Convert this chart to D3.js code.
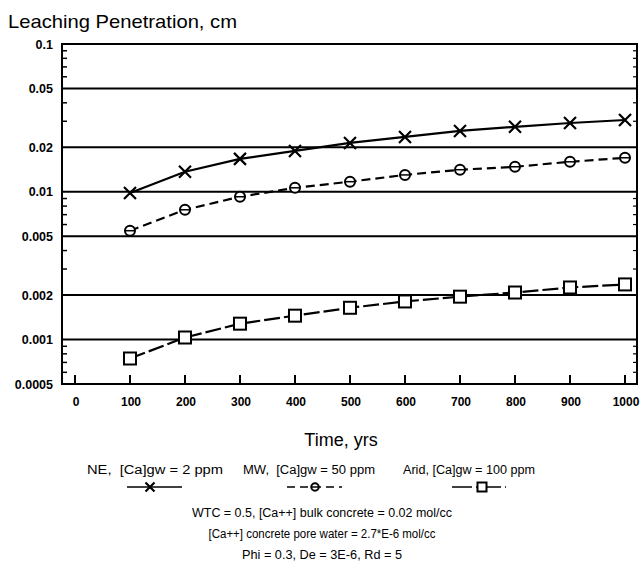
<!DOCTYPE html>
<html><head><meta charset="utf-8">
<script src="https://cdn.jsdelivr.net/npm/d3@7"></script>
<style>body{margin:0;background:#fff}svg{display:block}text{font-family:"Liberation Sans",Arial,sans-serif;fill:#000}</style>
</head><body>
<svg id="c" width="641" height="569"></svg>
<script>
const years = [100,200,300,400,500,600,700,800,900,1000];
const neValues = [0.0098,0.01365,0.0167,0.0189,0.0214,0.0235,0.0258,0.0275,0.0292,0.0306];
const mwValues = [0.00545,0.00755,0.00925,0.01064,0.0117,0.0130,0.0141,0.01476,0.01595,0.01698];
const aridValues = [0.000744,0.001032,0.00128,0.00145,0.00164,0.00181,0.00195,0.00208,0.00225,0.00236];
const xTicks = [0,100,200,300,400,500,600,700,800,900,1000];
const yTicks = [0.1,0.05,0.02,0.01,0.005,0.002,0.001,0.0005];
const yTickLabels = ["0.1","0.05","0.02","0.01","0.005","0.002","0.001","0.0005"];
const legendLabels = ["NE,  [Ca]gw = 2 ppm","MW,  [Ca]gw = 50 ppm","Arid, [Ca]gw = 100 ppm"];
const notes = ["WTC = 0.5, [Ca++] bulk concrete = 0.02 mol/cc","[Ca++] concrete pore water = 2.7*E-6 mol/cc","Phi = 0.3, De = 3E-6, Rd = 5"];

const svg = d3.select("#c");
const L=62,R=637,T=44,B=384;
const x = d3.scaleLinear().domain([-23.6,1021.8]).range([L,R]);
const y = d3.scaleLog().domain([0.0005,0.1]).range([B,T]);

svg.append("text").attr("x",8).attr("y",28).attr("font-size",19).attr("textLength",229).attr("lengthAdjust","spacingAndGlyphs").text("Leaching Penetration, cm");

svg.append("g").selectAll("line").data(yTicks).join("line")
 .attr("x1",L).attr("x2",R).attr("y1",d=>y(d)).attr("y2",d=>y(d)).attr("stroke","#000").attr("stroke-width",2);
svg.append("rect").attr("x",L).attr("y",T).attr("width",R-L).attr("height",B-T).attr("fill","none").attr("stroke","#000").attr("stroke-width",2);

const minors=[];
[0.0001,0.001,0.01].forEach(dec=>{for(let k=2;k<=9;k++){const v=dec*k; if(v>0.0005&&v<0.1&&yTicks.indexOf(+v.toPrecision(3))<0) minors.push(v);}});
svg.append("g").selectAll("line").data(minors).join("line")
 .attr("x1",L).attr("x2",L+5).attr("y1",d=>y(d)).attr("y2",d=>y(d)).attr("stroke","#000").attr("stroke-width",1.5);
svg.append("g").selectAll("line").data(minors).join("line")
 .attr("x1",R).attr("x2",R-4).attr("y1",d=>y(d)).attr("y2",d=>y(d)).attr("stroke","#000").attr("stroke-width",1.2);

svg.append("g").selectAll("text").data(yTicks).join("text")
 .attr("x",53).attr("y",d=>y(d)+4.5).attr("text-anchor","end").attr("font-size",12.5).attr("font-weight","bold")
 .text((d,i)=>yTickLabels[i]);

svg.append("g").selectAll("line").data(xTicks).join("line")
 .attr("x1",d=>x(d)).attr("x2",d=>x(d)).attr("y1",B).attr("y2",B-9).attr("stroke","#000").attr("stroke-width",2);
svg.append("g").selectAll("text").data(xTicks).join("text")
 .attr("x",d=>x(d)+1).attr("y",406).attr("text-anchor","middle").attr("font-size",12).attr("font-weight","bold").text(d=>d);

svg.append("text").attr("x",341).attr("y",446).attr("text-anchor","middle").attr("font-size",18).text("Time, yrs");

const line = d3.line().x((d,i)=>x(years[i])).y(d=>y(d));
const series=[
 {v:neValues,dash:null,m:"x"},
 {v:mwValues,dash:"9,5",m:"o"},
 {v:aridValues,dash:"16,4",m:"s"}];

function marker(g,type,cx,cy,k){
  k=k||1;
  if(type==="x"){
    const a=6*k;
    g.append("path").attr("d",`M${cx-a},${cy-a}L${cx+a},${cy+a}M${cx-a},${cy+a}L${cx+a},${cy-a}`).attr("stroke","#000").attr("stroke-width",2.2).attr("fill","none");
  } else if(type==="o"){
    g.append("circle").attr("cx",cx).attr("cy",cy).attr("r",5*k).attr("fill","#fff").attr("stroke","#000").attr("stroke-width",2);
    g.append("line").attr("x1",cx-5*k).attr("x2",cx+5*k).attr("y1",cy).attr("y2",cy).attr("stroke","#000").attr("stroke-width",1.5);
  } else {
    const a=6*k;
    g.append("rect").attr("x",cx-a).attr("y",cy-a).attr("width",2*a).attr("height",2*a).attr("fill","#fff").attr("stroke","#000").attr("stroke-width",2);
  }
}
series.forEach(s=>{
  svg.append("path").datum(s.v).attr("d",line).attr("fill","none").attr("stroke","#000").attr("stroke-width",2.2)
    .attr("stroke-dasharray",s.dash);
  const g=svg.append("g");
  s.v.forEach((d,i)=>marker(g,s.m,x(years[i]),y(d)));
});

const legX=[87,243,403], legW=[136,132,132];
legendLabels.forEach((t,i)=>{
  svg.append("text").attr("x",legX[i]).attr("y",474).attr("font-size",12).attr("textLength",legW[i]).attr("lengthAdjust","spacingAndGlyphs").attr("xml:space","preserve").text(t);
});
const symX=[[127,182,150],[287,342,315],[452,508,482]];
const g=svg.append("g");
series.forEach((s,i)=>{
  const [a,b,c]=symX[i];
  g.append("line").attr("x1",a).attr("x2",b).attr("y1",487).attr("y2",487).attr("stroke","#000").attr("stroke-width",1.5).attr("stroke-dasharray",s.dash?(i===1?"8,5":"20,4,1,4"):null);
  marker(g,s.m,c,487,0.75);
});

notes.forEach((t,i)=>{
  svg.append("text").attr("x",322).attr("y",517+i*21).attr("text-anchor","middle").attr("font-size",12).attr("textLength",[260,227,160][i]).attr("lengthAdjust","spacingAndGlyphs").text(t);
});
</script>
</body></html>
